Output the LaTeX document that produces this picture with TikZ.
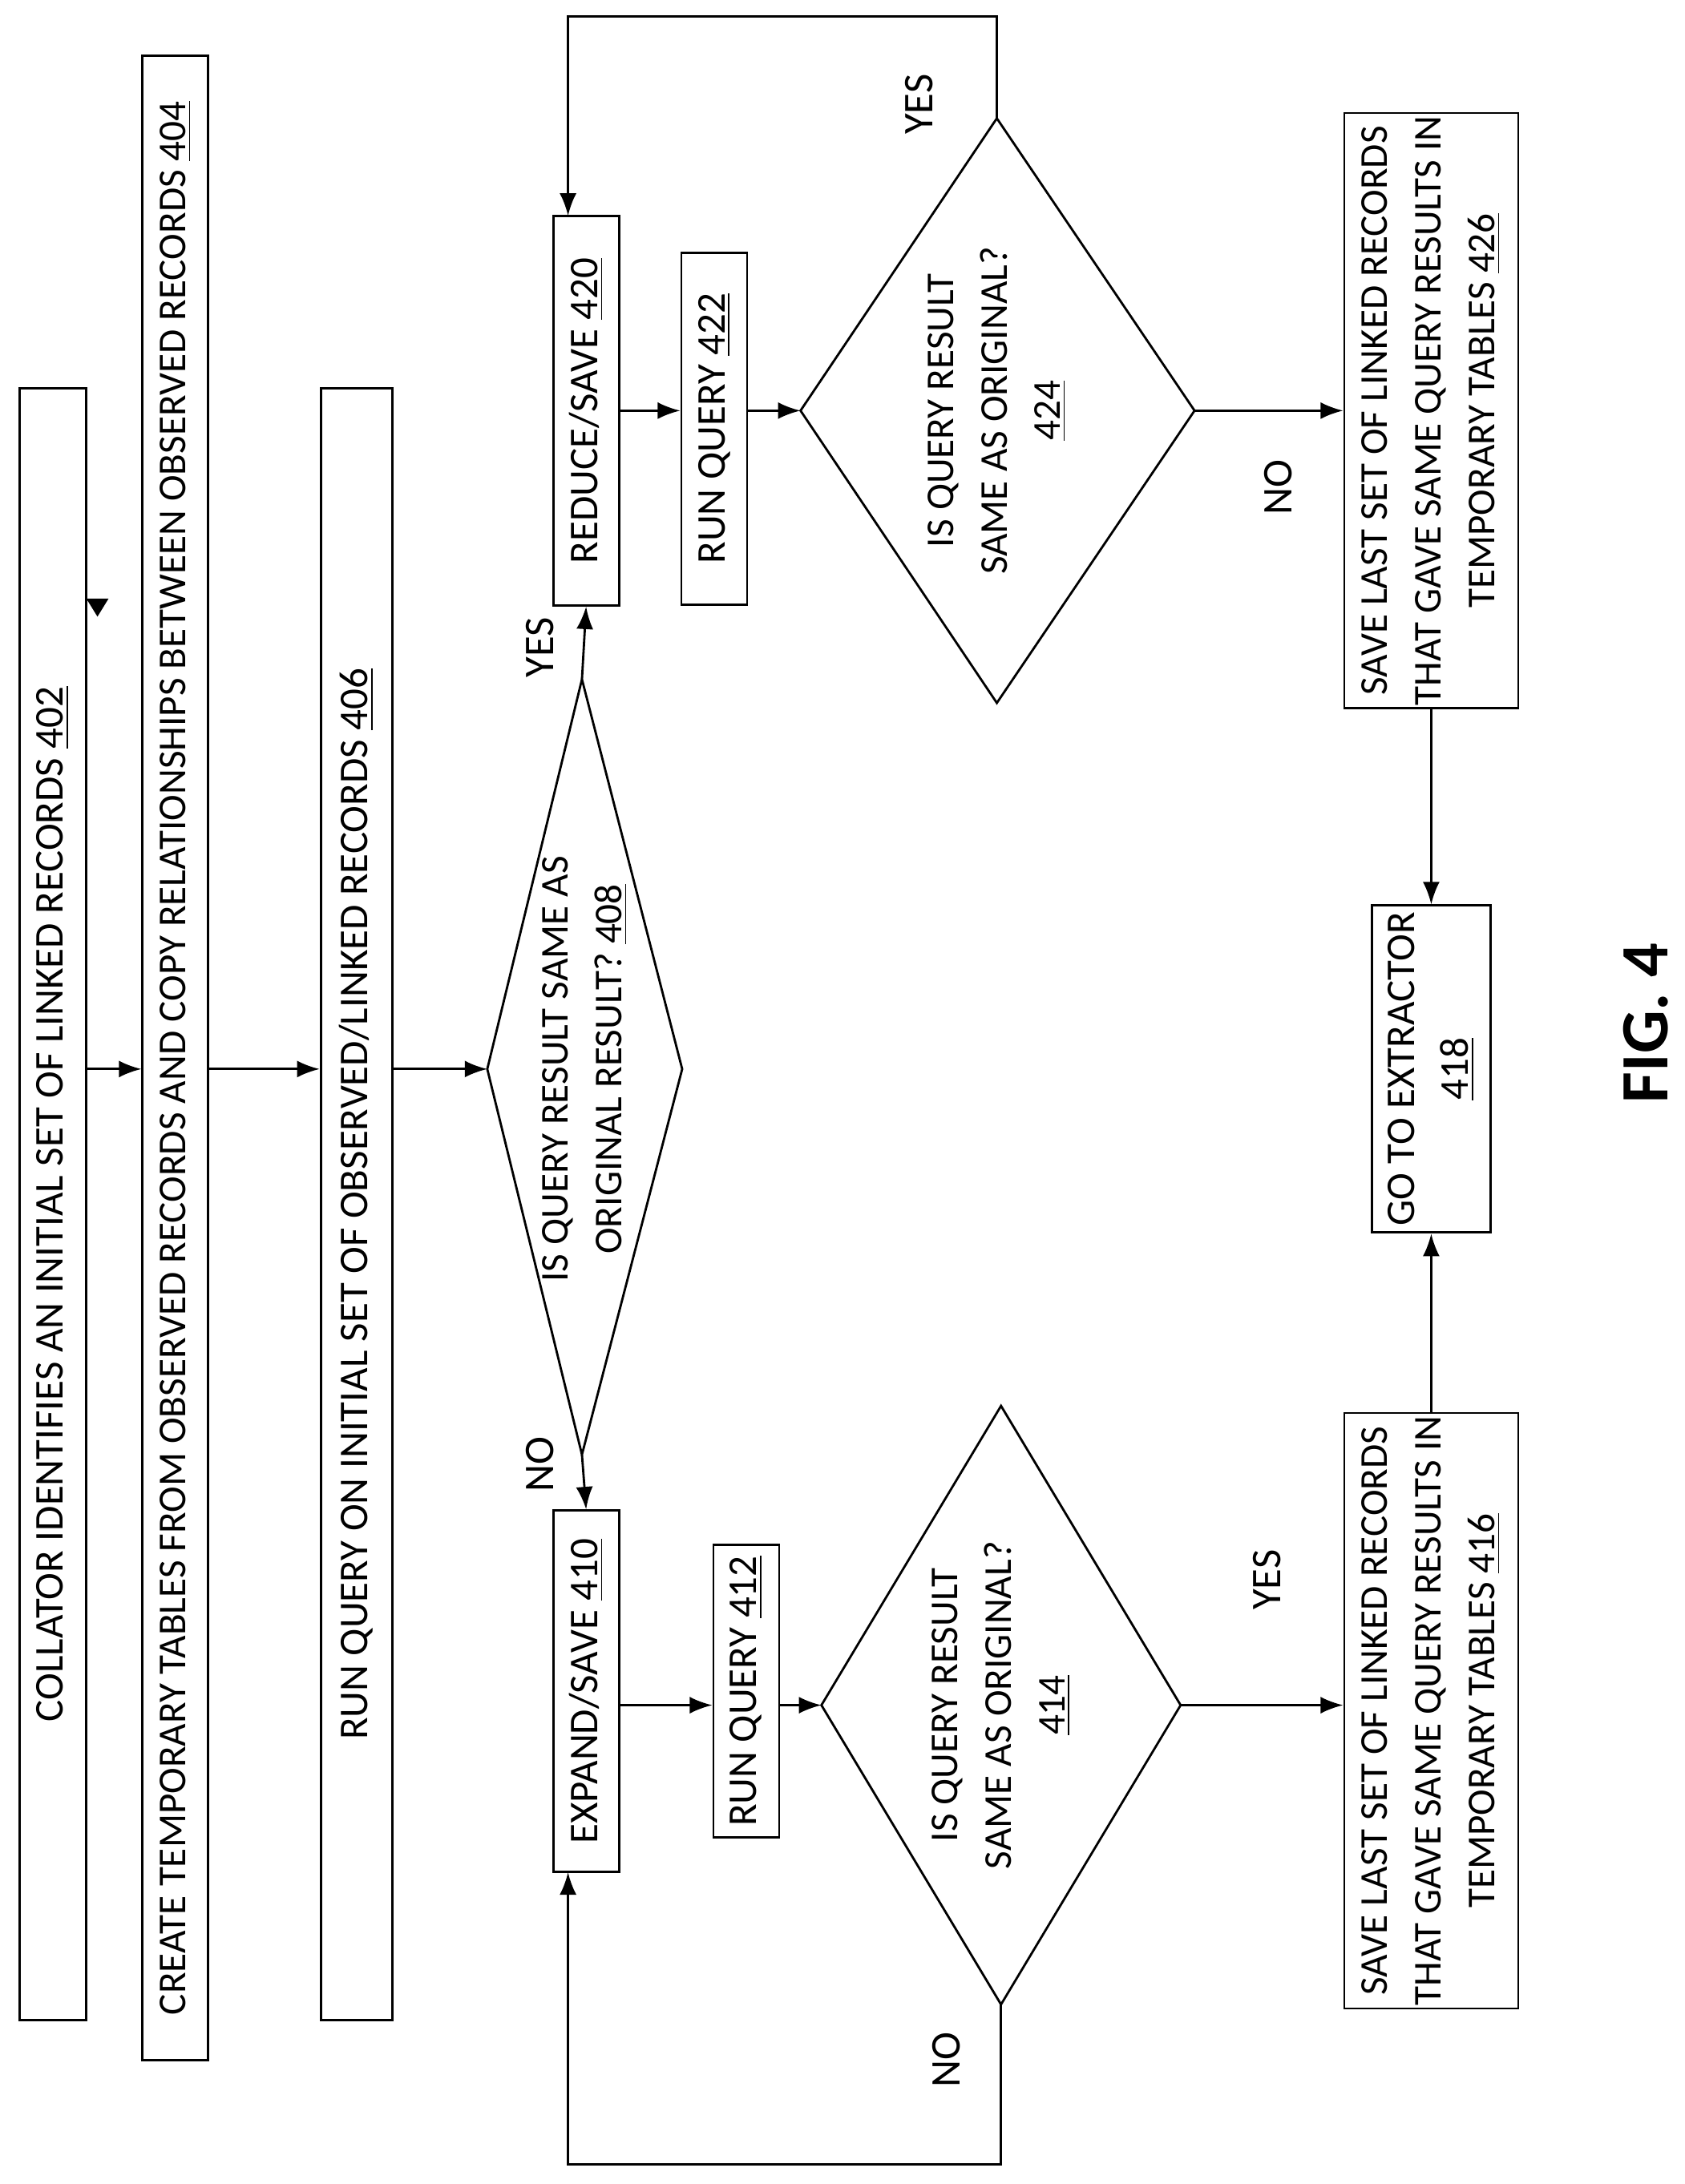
\documentclass[tikz,border=0pt]{standalone}
\usepackage{fontspec}
\setmainfont{Carlito}
\usetikzlibrary{arrows.meta}
\tikzset{
  box/.style={draw,thick,fill=white,rotate=90,align=center,inner sep=1pt,font=\fontsize{14.5}{19}\selectfont},
  dtext/.style={rotate=90,align=center,font=\fontsize{14}{19}\selectfont},
  lbl/.style={rotate=90,font=\fontsize{15}{18}\selectfont},
  arr/.style={thick,-{Latex[length=8pt,width=6pt]}}
}
\newcommand{\rn}[1]{\underline{#1}}
\begin{document}
\begin{tikzpicture}[x=0.01736cm,y=-0.01736cm]
\useasboundingbox (0,0) rectangle (1210,1569);

% left column
\node[box,minimum width=20.36cm,minimum height=0.83cm] (n402) at (38,865) {COLLATOR IDENTIFIES AN INITIAL SET OF LINKED RECORDS \rn{402}};
\node[box,minimum width=25.0cm,minimum height=0.82cm,font=\fontsize{14}{19}\selectfont] (n404) at (126,760) {CREATE TEMPORARY TABLES FROM OBSERVED RECORDS AND COPY RELATIONSHIPS BETWEEN OBSERVED RECORDS \rn{404}};
\node[box,minimum width=20.36cm,minimum height=0.89cm] (n406) at (256,865) {RUN QUERY ON INITIAL SET OF OBSERVED/LINKED RECORDS \rn{406}};
\fill (62,430) -- (78,430) -- (70,443) -- cycle;

% first decision
\draw[thick] (350,768) coordinate (d408l) -- (418,488) coordinate (d408t)
  -- (490,768) coordinate (d408r) -- (418,1045) coordinate (d408b) -- cycle;
\node[dtext] (t408) at (420,768) {IS QUERY RESULT SAME AS\\ORIGINAL RESULT? \rn{408}};

% expand branch
\node[box,minimum width=4.51cm,minimum height=0.82cm] (n410) at (421,1215) {EXPAND/SAVE \rn{410}};
\node[box,minimum width=3.65cm,minimum height=0.82cm] (n412) at (536,1215) {RUN QUERY \rn{412}};
\draw[thick] (590,1225) coordinate (d414l) -- (719,1010) coordinate (d414t)
  -- (848,1225) coordinate (d414r) -- (719,1440) coordinate (d414b) -- cycle;
\node[dtext] (t414) at (719,1225) {IS QUERY RESULT\\SAME AS ORIGINAL?\\\rn{414}};
\node[box,minimum width=7.33cm,minimum height=2.17cm,font=\fontsize{14}{19}\selectfont] (n416) at (1028,1229) {SAVE LAST SET OF LINKED RECORDS\\THAT GAVE SAME QUERY RESULTS IN\\TEMPORARY TABLES \rn{416}};

% reduce branch
\node[box,minimum width=4.86cm,minimum height=0.82cm] (n420) at (421,295) {REDUCE/SAVE \rn{420}};
\node[box,minimum width=4.39cm,minimum height=0.82cm] (n422) at (513,308) {RUN QUERY \rn{422}};
\draw[thick] (575,295) coordinate (d424l) -- (716,85) coordinate (d424t)
  -- (858,295) coordinate (d424r) -- (716,505) coordinate (d424b) -- cycle;
\node[dtext] (t424) at (716,295) {IS QUERY RESULT\\SAME AS ORIGINAL?\\\rn{424}};
\node[box,minimum width=7.29cm,minimum height=2.17cm,font=\fontsize{14}{19}\selectfont] (n426) at (1028,295) {SAVE LAST SET OF LINKED RECORDS\\THAT GAVE SAME QUERY RESULTS IN\\TEMPORARY TABLES \rn{426}};

\node[box,minimum width=4.08cm,minimum height=1.48cm] (n418) at (1028,768) {GO TO EXTRACTOR\\\rn{418}};

% connectors
\draw[arr] (n402.south |- 0,768) -- (n404.north |- 0,768);
\draw[arr] (n404.south |- 0,768) -- (n406.north |- 0,768);
\draw[arr] (n406.south |- 0,768) -- (d408l);
\draw[arr] (d408b) -- (n410.east);
\draw[arr] (d408t) -- (n420.west);
\draw[arr] (n410.south |- 0,1225) -- (n412.north |- 0,1225);
\draw[arr] (n412.south |- 0,1225) -- (d414l);
\draw[arr] (d414r) -- (n416.north |- d414r);
\draw[arr] (d414b) -- (719,1555) -| (408,1345);
\draw[arr] (n420.south |- 0,295) -- (n422.north |- 0,295);
\draw[arr] (n422.south |- 0,295) -- (d424l);
\draw[arr] (d424r) -- (n426.north |- d424r);
\draw[arr] (d424t) -- (716,12) -| (408,155);
\draw[arr] (n426.west) -- (n418.east);
\draw[arr] (n416.east) -- (n418.west);

% labels
\node[lbl] (l1) at (388,1052) {NO};
\node[lbl] (l2) at (388,465) {YES};
\node[lbl] (l3) at (910,1135) {YES};
\node[lbl] (l4) at (680,1480) {NO};
\node[lbl] (l5) at (918,350) {NO};
\node[lbl] (l6) at (660,75) {YES};
\node[rotate=90,font=\fontsize{24}{28}\bfseries\selectfont] (fig) at (1182,735) {FIG. 4};
\end{tikzpicture}
\end{document}
